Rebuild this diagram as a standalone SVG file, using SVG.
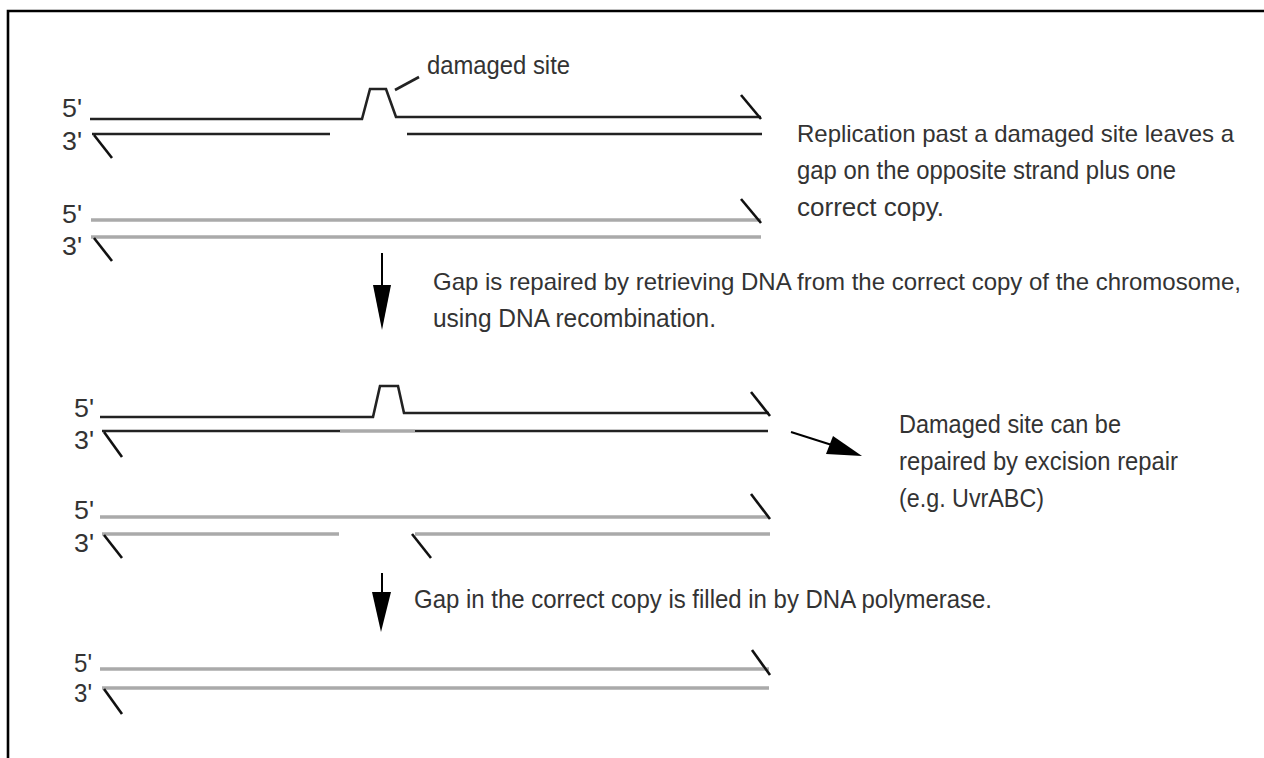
<svg xmlns="http://www.w3.org/2000/svg" width="1264" height="758" viewBox="0 0 1264 758">
<defs>
<style>
.t{font-family:"Liberation Sans",Arial,sans-serif;font-size:26px;fill:#333}
.s{font-size:24px}
.k{fill:none;stroke:#222;stroke-width:2.6;stroke-linejoin:miter}
.g{fill:none;stroke:#aaa;stroke-width:3.6}
.tick{fill:none;stroke:#111;stroke-width:2.6}
.arr{fill:none;stroke:#000;stroke-width:2}
</style>
</defs>
<rect width="1264" height="758" fill="#fff"/>
<path d="M8,758 V11 H1264" fill="none" stroke="#000" stroke-width="2.6"/>

<g id="duplex1">
<text class="t" x="62" y="117" textLength="20" lengthAdjust="spacingAndGlyphs">5'</text>
<text class="t" x="62" y="150" textLength="20" lengthAdjust="spacingAndGlyphs">3'</text>
<path class="k" d="M90,119 H362 L370,89 H386 L396,117 H761"/>
<path class="tick" d="M741,95 L761,119"/>
<path class="k" d="M92,134 H330 M407,134 H762"/>
<path class="tick" d="M94,135 L112,158"/>
<path class="k" d="M395,90 L419,77" stroke-width="2"/>
<text class="t" x="427" y="74" textLength="143" lengthAdjust="spacingAndGlyphs">damaged site</text>
</g>

<g id="duplex1b">
<text class="t" x="62" y="223" textLength="20" lengthAdjust="spacingAndGlyphs">5'</text>
<text class="t" x="62" y="255" textLength="20" lengthAdjust="spacingAndGlyphs">3'</text>
<path class="g" d="M91,220 H761"/>
<path class="tick" d="M741,199 L761,223"/>
<path class="g" d="M91,237 H761"/>
<path class="tick" d="M94,238 L112,261"/>
</g>

<g id="note1">
<text class="t s" x="797" y="142" textLength="437" lengthAdjust="spacingAndGlyphs">Replication past a damaged site leaves a</text>
<text class="t" x="797" y="179" textLength="379" lengthAdjust="spacingAndGlyphs">gap on the opposite strand plus one</text>
<text class="t" x="797" y="216" textLength="147" lengthAdjust="spacingAndGlyphs">correct copy.</text>
</g>

<g id="note2">
<text class="t s" x="433" y="290" textLength="808" lengthAdjust="spacingAndGlyphs">Gap is repaired by retrieving DNA from the correct copy of the chromosome,</text>
<text class="t" x="433" y="327" textLength="283" lengthAdjust="spacingAndGlyphs">using DNA recombination.</text>
</g>

<g id="duplex2">
<text class="t" x="74" y="417" textLength="20" lengthAdjust="spacingAndGlyphs">5'</text>
<text class="t" x="74" y="449" textLength="20" lengthAdjust="spacingAndGlyphs">3'</text>
<path class="k" d="M100,417 H373 L380,386 H398 L404,413 H769"/>
<path class="tick" d="M751,392 L770,416"/>
<path class="k" d="M102,431 H340 M415,431 H768"/>
<path class="g" d="M340,431 H415"/>
<path class="tick" d="M104,432 L122,457"/>
</g>

<g id="duplex2b">
<text class="t" x="74" y="519" textLength="20" lengthAdjust="spacingAndGlyphs">5'</text>
<text class="t" x="74" y="552" textLength="20" lengthAdjust="spacingAndGlyphs">3'</text>
<path class="g" d="M100,517 H769"/>
<path class="tick" d="M751,494 L770,519"/>
<path class="g" d="M102,534 H339 M415,534 H770"/>
<path class="tick" d="M104,535 L122,558"/>
<path class="tick" d="M412,534 L431,558"/>
</g>

<g id="note3">
<text class="t" x="899" y="433" textLength="222" lengthAdjust="spacingAndGlyphs">Damaged site can be</text>
<text class="t" x="899" y="470" textLength="279" lengthAdjust="spacingAndGlyphs">repaired by excision repair</text>
<text class="t" x="899" y="507" textLength="145" lengthAdjust="spacingAndGlyphs">(e.g. UvrABC)</text>
</g>

<g id="note4">
<text class="t" x="414" y="608" textLength="578" lengthAdjust="spacingAndGlyphs">Gap in the correct copy is filled in by DNA polymerase.</text>
</g>

<g id="duplex3">
<text class="t" x="74" y="672" textLength="18" lengthAdjust="spacingAndGlyphs">5'</text>
<text class="t" x="74" y="702" textLength="18" lengthAdjust="spacingAndGlyphs">3'</text>
<path class="g" d="M100,669 H769"/>
<path class="tick" d="M752,650 L770,675"/>
<path class="g" d="M102,688 H769"/>
<path class="tick" d="M104,689 L122,714"/>
</g>

<g id="connectors">
<path class="arr" d="M382,253 V290"/>
<polygon points="373,285 391,285 382,330" fill="#000"/>
<path class="arr" d="M382,573 V597"/>
<polygon points="372,592 391,592 381,632" fill="#000"/>
<path class="arr" d="M791,432 L835,446"/>
<polygon points="862,456 826,454 833,436" fill="#000"/>
</g>
</svg>
